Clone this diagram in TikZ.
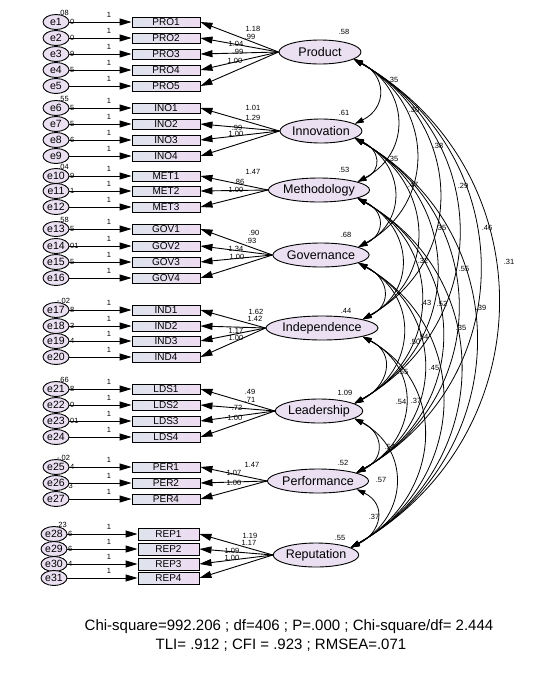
\documentclass[tikz,border=0pt]{standalone}
\usepackage{fontspec}
\setmainfont{Liberation Sans}
\usetikzlibrary{shapes.geometric,arrows.meta}
\definecolor{lav}{RGB}{234,224,242}
\definecolor{boxL}{RGB}{222,227,236}
\definecolor{boxR}{RGB}{238,220,242}
\begin{document}
\begin{tikzpicture}[x=1pt,y=-1pt,
  err/.style={ellipse, draw, line width=0.9pt, fill=lav, minimum width=26pt, minimum height=15pt, inner sep=0pt, font=\fontsize{10.5}{10.5}\selectfont},
  obs/.style={rectangle, draw, line width=0.9pt, left color=boxL, right color=boxR, minimum width=68pt, minimum height=10pt, inner sep=0pt, font=\fontsize{10}{10}\selectfont},
  obsr/.style={obs, minimum width=61pt, minimum height=12pt},
  lat/.style={ellipse, draw, line width=0.9pt, fill=lav, minimum width=82pt, minimum height=24pt, inner sep=0pt, font=\fontsize{12.5}{12.5}\selectfont},
  tip/.style={-{Triangle[length=12pt,width=7pt]}, line width=0.9pt},
  cov/.style={{Triangle[length=9pt,width=5.5pt]}-{Triangle[length=9pt,width=5.5pt]}, line width=0.8pt},
  num/.style={font=\fontsize{7.5}{7.5}\selectfont, inner sep=0pt},
  frag/.style={font=\fontsize{7.5}{7.5}\selectfont, inner sep=0pt, anchor=west},
  stat/.style={font=\fontsize{15}{15}\selectfont, inner sep=0pt}
]
\fill[white] (0,0) rectangle (556,694);
\useasboundingbox (0,0) rectangle (556,694);

% latent variables
\node[lat] (P) at (320,52) {Product};
\node[lat] (I) at (321,131) {Innovation};
\node[lat] (M) at (319,190) {Methodology};
\node[lat] (G) at (321,255) {Governance};
\node[lat] (D) at (322,328) {Independence};
\node[lat] (L) at (319,411) {Leadership};
\node[lat] (F) at (318,481) {Performance};
\node[lat] (R) at (316,555) {Reputation};

% observed variables with errors
\foreach \b/\yy/\e/\lt in {PRO1/22/1/P,PRO2/38/2/P,PRO3/54/3/P,PRO4/70/4/P,PRO5/86/5/P,
  INO1/108/6/I,INO2/124/7/I,INO3/140/8/I,INO4/156/9/I,
  MET1/176/10/M,MET2/191/11/M,MET3/207/12/M,
  GOV1/229/13/G,GOV2/246/14/G,GOV3/262/15/G,GOV4/278/16/G,
  IND1/310/17/D,IND2/326/18/D,IND3/341/19/D,IND4/357/20/D,
  LDS1/389/21/L,LDS2/405/22/L,LDS3/421/23/L,LDS4/437/24/L,
  PER1/467/25/F,PER2/483/26/F,PER4/499/27/F}{
  \node[obs] (\b) at (166,\yy) {\b};
  \node[err] (e\e) at (56,\yy) {e\e};
  \draw[tip] (e\e) -- (\b);
  \node[num] at (109,\yy-7) {1};
  \draw[tip] (\lt.west) -- (\b.east);
}
\foreach \b/\yy/\e in {REP1/534/28,REP2/549/29,REP3/564/30,REP4/578/31}{
  \node[obsr] (\b) at (168.5,\yy) {\b};
  \node[err] (e\e) at (54,\yy) {e\e};
  \draw[tip] (e\e) -- (\b);
  \node[num] at (109,\yy-7) {1};
  \draw[tip] (R.west) -- (\b.east);
}

% partly hidden error variances
\foreach \e/\t in {1/0,2/0,3/9,4/5,6/5,7/5,8/6,10/9,11/1,13/5,14/01,15/5,17/8,18/3,19/4,21/8,22/0,23/01,25/4,28/6,29/6,30/4}{
  \node[frag] at ([xshift=0.5pt]e\e.east) {\t};
}
\node[frag] at ([xshift=-1pt,yshift=-3pt]e26.east) {3};
\foreach \e/\t in {1/.08,6/.55,10/.04,13/.58,17/-.02,21/.66,25/-.02,28/.23}{
  \node[num, anchor=south] at ([xshift=-2pt,yshift=1pt]e\e.north east) {\t};
}

% loadings
\foreach \x/\y/\t in {253/29/1.18,250/37/.99,236/44/1.04,238/52/.99,235/61/1.00,
  253/108/1.01,253/118/1.29,237/128/.99,236/134/1.00,
  253/172/1.47,239/182/.86,236/190/1.00,
  254/233/.90,251/241/.93,236/249/1.34,237/257/1.00,
  256/312/1.62,255/319/1.42,236/331/1.17,236/338/1.00,
  250/392/.49,250/400/.71,237/408/.72,235/418/1.00,
  252/465/1.47,234/473/1.07,234/483/1.00,
  250/536/1.19,249/543/1.17,232/551/1.09,232/558/1.00}{
  \node[num] at (\x,\y) {\t};
}
% latent variances
\foreach \x/\y/\t in {344/32/.58,344/113/.61,344/170/.53,346/235/.68,346/311/.44,345/393/1.09,343/463/.52,340/538/.55}{
  \node[num] at (\x,\y) {\t};
}

% covariances
\foreach \a/\ya [count=\i] in {P/52,I/131,M/190,G/255,D/328,L/411,F/481,R/555}{
  \foreach \b/\yb [count=\j] in {P/52,I/131,M/190,G/255,D/328,L/411,F/481,R/555}{
    \ifnum\j>\i
      \pgfmathsetmacro\dd{\yb-\ya}
      \pgfmathsetmacro\bb{2+0.285*\dd}
      \pgfmathsetmacro\kk{\bb*4/3}
      \pgfmathsetmacro\ang{90-2*atan(2*\bb/\dd)}
      \pgfmathsetmacro\vv{\kk*tan(\ang)}
      \draw[cov] (\a.-12) .. controls +(\kk,\vv) and +(\kk,-\vv) .. (\b.12);
    \fi
  }
}
\foreach \x/\y/\t in {393/80/.35,414/110/.30,438/146/.38,463/186/.29,393/159/.35,413/185/.47,
  441/228/.35,487/228/.46,509/262/.31,423/261/.32,464/269/.55,426/303/.43,442/304/.52,
  481/308/.39,461/328/.35,415/342/.50,423/337/.54,434/368/.45,416/401/.37,401/402/.54,
  403/372/.55,390/447/.54,381/480/.57,374/517/.37}{
  \node[num] at (\x,\y) {\t};
}

% fit statistics
\node[stat] (s1) at (289,627) {Chi-square=992.206 ; df=406 ; P=.000 ; Chi-square/df= 2.444};
\node[stat] (s2) at (281,645) {TLI= .912 ; CFI = .923 ; RMSEA=.071};
\end{tikzpicture}
\end{document}
